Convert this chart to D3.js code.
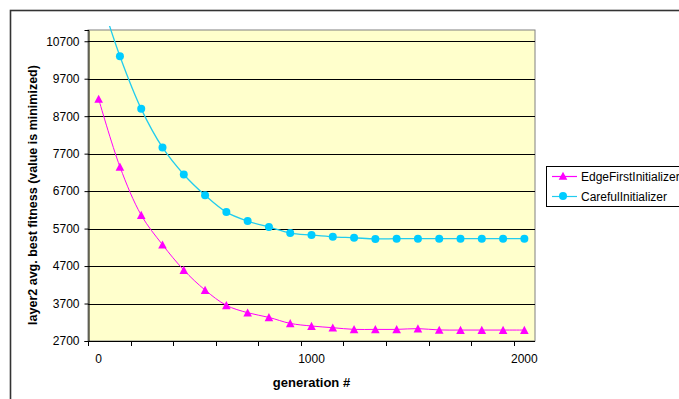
<!DOCTYPE html>
<html><head><meta charset="utf-8">
<script src="https://cdn.jsdelivr.net/npm/d3@7"></script>
<style>
html,body{margin:0;padding:0;background:#fff;}
svg{display:block;font-family:"Liberation Sans",Arial,sans-serif;}
</style></head>
<body><svg id="c" width="679" height="399"></svg>
<script>
const categories = [0,100,200,300,400,500,600,700,800,900,1000,1100,1200,1300,1400,1500,1600,1700,1800,1900,2000];
const xTickLabels = [0,1000,2000];
const yTicks = [2700,3700,4700,5700,6700,7700,8700,9700,10700];
const edgeFirst = [9160,7350,6060,5270,4593,4060,3652,3455,3330,3170,3100,3055,3010,3010,3010,3030,2995,2992,2992,2992,2992];
const careful = [12020,10300,8895,7865,7145,6590,6140,5900,5740,5580,5527,5480,5455,5425,5430,5430,5430,5430,5430,5430,5430];
const seriesNames = ["EdgeFirstInitializer","CarefulInitializer"];

const svg = d3.select("#c");
const L=88, T=30, R=535, B=341;
const x = d3.scaleBand().domain(categories).range([L,R]).padding(0);
const y = d3.scaleLinear().domain([2700,11000]).range([B,T]);
const cx = d => x(d) + x.bandwidth()/2;

// chart area border
svg.append("rect").attr("x",10.5).attr("y",10.5).attr("width",720).attr("height",420)
  .attr("fill","#fff").attr("stroke","#333").attr("stroke-width",1.6);

// plot area
svg.append("rect").attr("x",L).attr("y",T).attr("width",R-L).attr("height",B-T)
  .attr("fill","#FFFFCC").attr("stroke","#808080").attr("stroke-width",1);

// gridlines
svg.append("g").selectAll("line").data(yTicks.slice(1)).join("line")
  .attr("x1",L).attr("x2",R).attr("y1",d=>Math.round(y(d))+0.5).attr("y2",d=>Math.round(y(d))+0.5)
  .attr("stroke","#000").attr("stroke-width",1);

// y axis
const ya = svg.append("g").attr("transform",`translate(${L+0.5},0)`)
  .call(d3.axisLeft(y).tickValues(yTicks).tickSize(4).tickPadding(5).tickFormat(d3.format("d")));
ya.select(".domain").attr("stroke","#000");
ya.selectAll(".tick line").attr("stroke","#000");
ya.selectAll("text").attr("font-size",12).attr("fill","#000").attr("font-family","Liberation Sans, Arial");

// x axis
const xg = svg.append("g");
xg.append("line").attr("x1",L).attr("x2",R).attr("y1",B+0.5).attr("y2",B+0.5).attr("stroke","#000");
xg.selectAll("line.t").data(categories.filter((d,i)=>i%2===0)).join("line").attr("class","t")
  .attr("x1",d=>Math.round(x(d))+0.5).attr("x2",d=>Math.round(x(d))+0.5)
  .attr("y1",B).attr("y2",B+5).attr("stroke","#000");
xg.selectAll("text").data(xTickLabels).join("text")
  .attr("x",d=>cx(d)).attr("y",B+22).attr("text-anchor","middle")
  .attr("font-size",12).attr("fill","#000").text(d=>d);

// clip
svg.append("clipPath").attr("id","clip").append("rect")
  .attr("x",L-10).attr("y",T-4).attr("width",R-L+20).attr("height",B-T+14);

const line = d3.line().x((d,i)=>cx(categories[i])).y(d=>y(d)).curve(d3.curveCatmullRom.alpha(0.5));
const gS = svg.append("g").attr("clip-path","url(#clip)");
gS.append("path").datum(careful).attr("d",line).attr("fill","none").attr("stroke","#22ccee").attr("stroke-width",1.3);
gS.append("path").datum(edgeFirst).attr("d",line).attr("fill","none").attr("stroke","#ff00ff").attr("stroke-width",1);

const tri = (px,py,s) => `M${px},${py-s}L${px+s},${py+s*0.9}L${px-s},${py+s*0.9}Z`;
gS.selectAll("circle.c").data(careful).join("circle").attr("class","c")
  .attr("cx",(d,i)=>cx(categories[i])).attr("cy",d=>y(d)).attr("r",4).attr("fill","#00ccff");
gS.selectAll("path.m").data(edgeFirst).join("path").attr("class","m")
  .attr("d",(d,i)=>tri(cx(categories[i]),y(d),4.3)).attr("fill","#ff00ff");

// axis titles
svg.append("text").attr("x",cx(1000)).attr("y",387).attr("text-anchor","middle")
  .attr("font-size",13).attr("font-weight","bold").text("generation #");
svg.append("text").attr("transform","translate(37,195) rotate(-90)").attr("text-anchor","middle")
  .attr("font-size",12.5).attr("font-weight","bold").text("layer2 avg. best fitness (value is minimized)");

// legend
const lg = svg.append("g");
lg.append("rect").attr("x",546.5).attr("y",166.5).attr("width",200).attr("height",40)
  .attr("fill","#fff").attr("stroke","#000");
const ly = [176, 196];
const lc = ["#ff00ff","#22ccee"];
seriesNames.forEach((n,i)=>{
  lg.append("line").attr("x1",552).attr("x2",577).attr("y1",ly[i]+0.5).attr("y2",ly[i]+0.5).attr("stroke",lc[i]).attr("stroke-width",1.2);
  if(i===0) lg.append("path").attr("d",tri(563,ly[i],4.3)).attr("fill","#ff00ff");
  else lg.append("circle").attr("cx",563).attr("cy",ly[i]).attr("r",4).attr("fill","#00ccff");
  lg.append("text").attr("x",581).attr("y",ly[i]+4.5).attr("font-size",12).text(n);
});
</script></body></html>
